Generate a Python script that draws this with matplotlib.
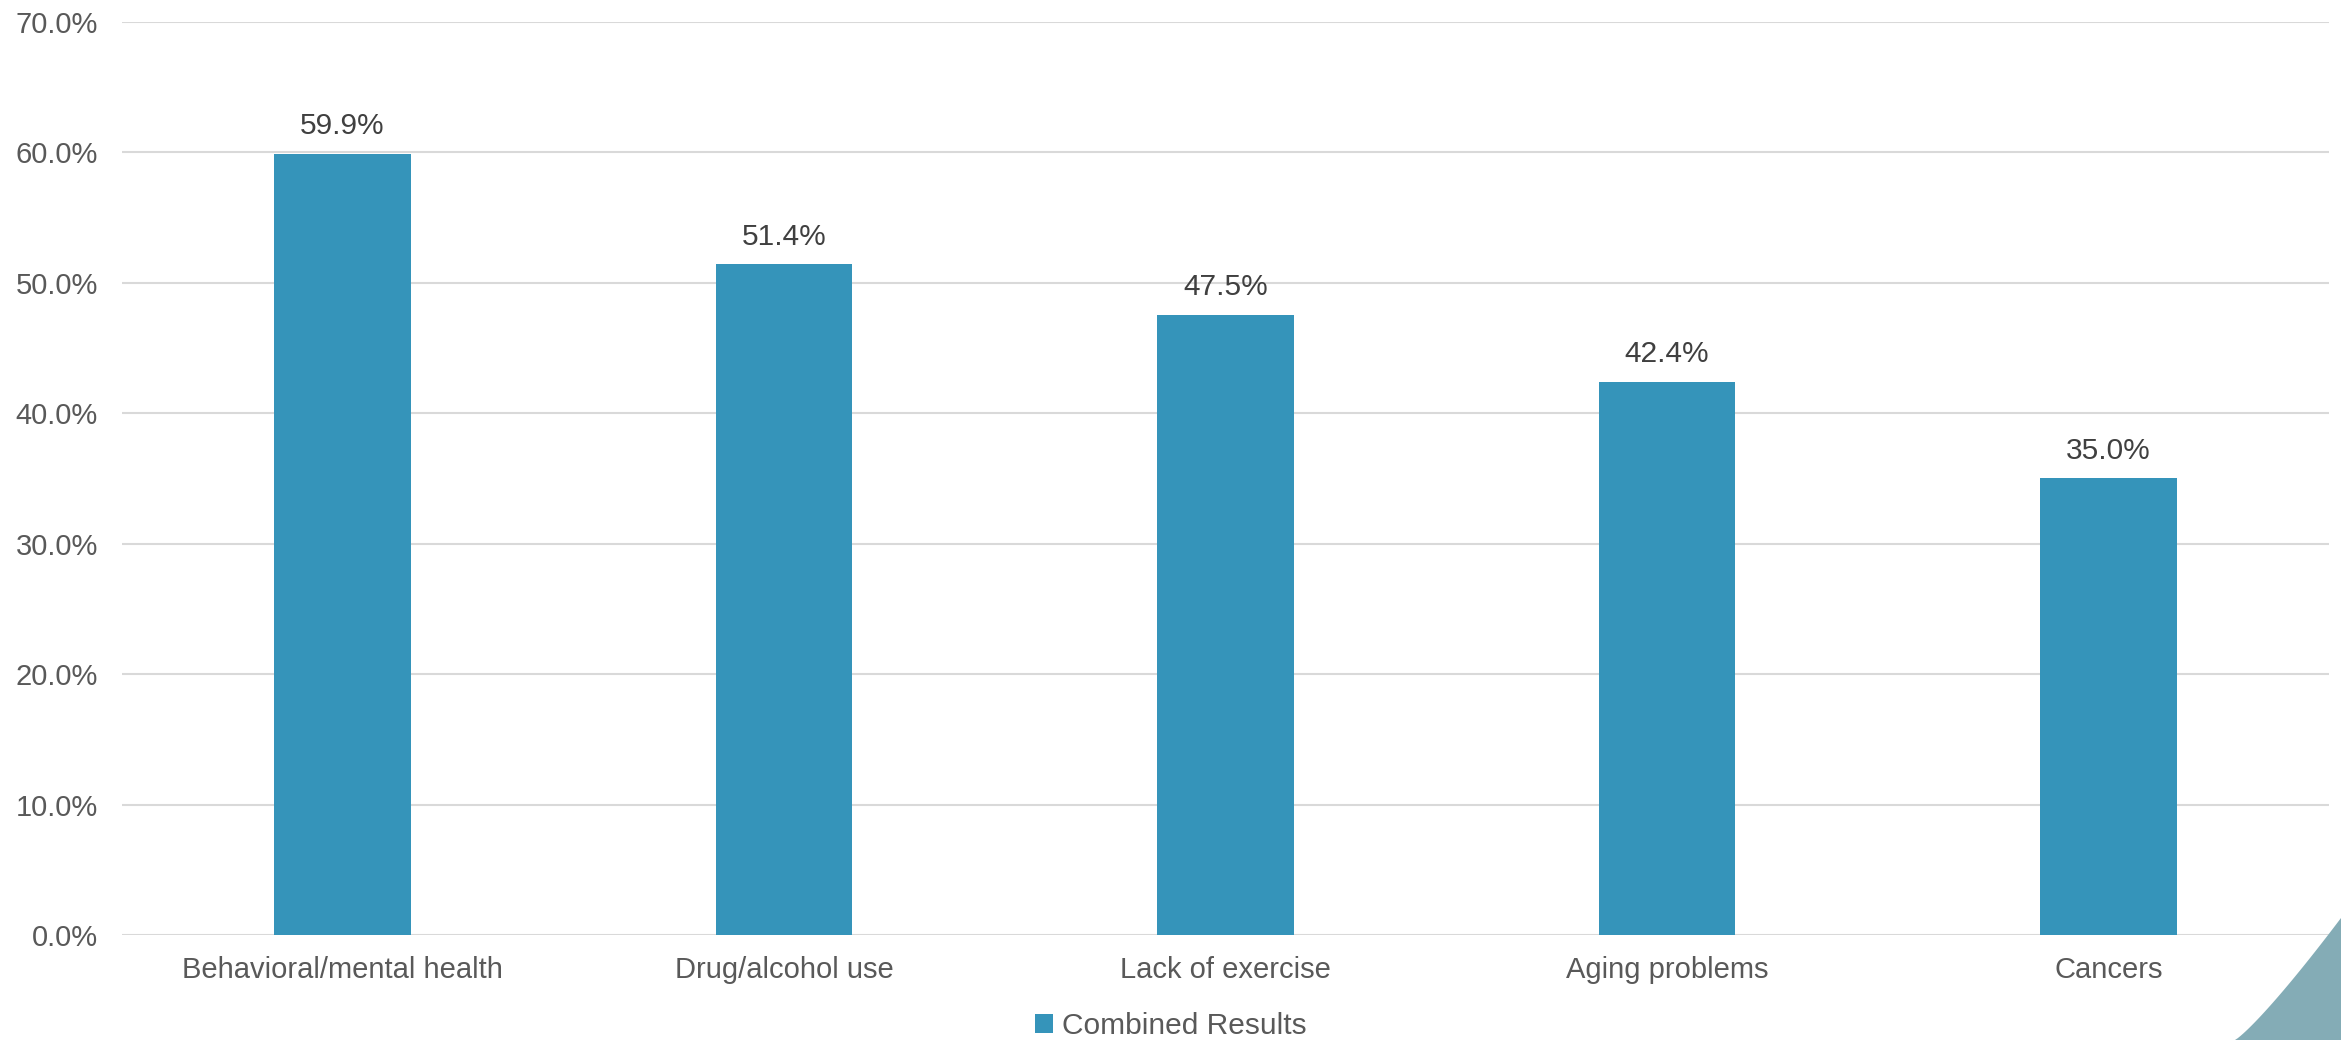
import matplotlib.pyplot as plt
import numpy as np
from matplotlib.patches import Polygon

plt.rc("font", family=["Liberation Sans", "DejaVu Sans"], size=21)

categories = ["Behavioral/mental health", "Drug/alcohol use", "Lack of exercise",
              "Aging problems", "Cancers"]
values = [59.9, 51.4, 47.5, 42.4, 35.0]
yticks = [0, 10, 20, 30, 40, 50, 60, 70]
series_name = "Combined Results"

bar_color = "#3594BA"
text_color = "#595959"

fig = plt.figure(figsize=(23.41, 10.40), dpi=100)
ax = fig.add_axes([0.052, 0.101, 0.943, 0.878])

x = np.arange(len(categories))
bars = ax.bar(x, values, width=0.31, color=bar_color, label=series_name, zorder=3)

for b, v in zip(bars, values):
    ax.annotate(f"{v:.1f}%", (b.get_x() + b.get_width() / 2, v),
                xytext=(0, 10), textcoords="offset points", ha="center",
                va="bottom", color="#404040", fontsize=21.5)

ax.set_xlim(-0.5, len(categories) - 0.5)
ax.set_ylim(0, 70)
ax.set_yticks(yticks)
ax.set_yticklabels([f"{t:.1f}%" for t in yticks])
ax.set_xticks(x)
ax.set_xticklabels(categories)
ax.tick_params(axis="both", length=0, colors=text_color, labelsize=21)
ax.tick_params(axis="y", pad=17)
ax.tick_params(axis="x", pad=15)
ax.grid(axis="y", color="#D9D9D9", linewidth=1.5, zorder=0)
for s in ax.spines.values():
    s.set_visible(False)

leg = fig.legend(loc="center", bbox_to_anchor=(0.5, 0.013), frameon=False,
                 handlelength=0.6, handleheight=0.6, handletextpad=0.3,
                 fontsize=21.5, borderpad=0)
for t in leg.get_texts():
    t.set_color(text_color)

# decorative corner shape
t = np.linspace(0, 1, 40)
cx = 2235 + (2341 - 2235) * t
cy = 1040 - (1040 - 918) * (t ** 1.15)
pts = list(zip(cx / 2341, 1 - cy / 1040)) + [(1, 0)]
fig.patches.append(Polygon(pts, closed=True, transform=fig.transFigure,
                           facecolor="#84ACB6", edgecolor="none"))

fig.savefig("out.png", dpi=100)
